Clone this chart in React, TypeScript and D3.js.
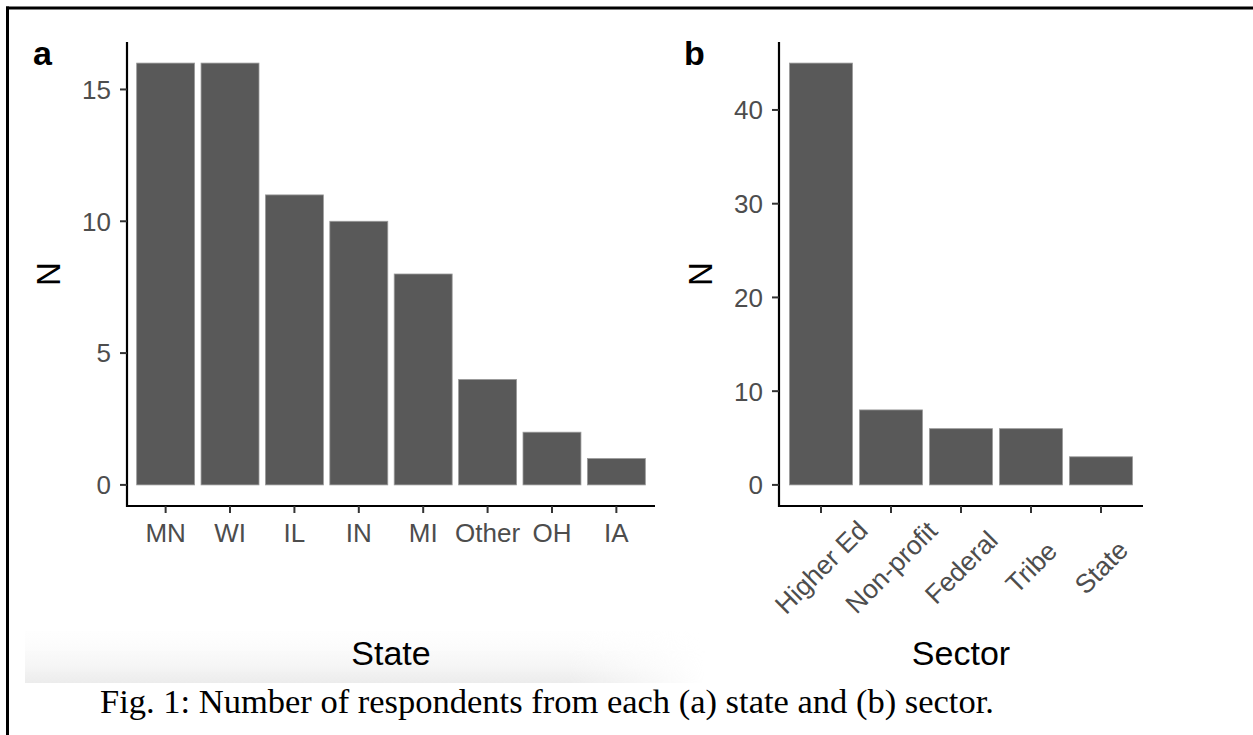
import React from "react";
import * as d3 from "d3";

const stateCategories = ["MN", "WI", "IL", "IN", "MI", "Other", "OH", "IA"];
const stateCounts = [16, 16, 11, 10, 8, 4, 2, 1];
const stateTicks = [0, 5, 10, 15];

const sectorCategories = ["Higher Ed", "Non-profit", "Federal", "Tribe", "State"];
const sectorCounts = [45, 8, 6, 6, 3];
const sectorTicks = [0, 10, 20, 30, 40];

const caption = "Fig. 1: Number of respondents from each (a) state and (b) sector.";

const W = 1253;
const H = 735;
const BAR = "#595959";
const TICKTXT = "#4d4d4d";
const SANS = "'Liberation Sans', Arial, Helvetica, sans-serif";

type PanelProps = {
  cats: string[];
  vals: number[];
  ticks: number[];
  left: number;
  right: number;
  top: number;
  bottom: number;
  label: string;
  labelX: number;
  xTitle: string;
  xTitleY: number;
  yTitleX: number;
  rotate: boolean;
};

function Panel(p: PanelProps) {
  const maxV = d3.max(p.vals) as number;
  const pad = maxV * 0.05;
  const y = d3.scaleLinear().domain([-pad, maxV + pad]).range([p.bottom, p.top]);
  const n = p.cats.length;
  const x = d3.scaleLinear().domain([0.4, n + 0.6]).range([p.left, p.right]);
  const bw = x(1.9) - x(1);
  return (
    <g>
      {p.vals.map((v, i) => (
        <rect
          key={p.cats[i]}
          x={x(i + 1) - bw / 2}
          y={y(v)}
          width={bw}
          height={y(0) - y(v)}
          fill={BAR}
          stroke="#9a9a9a"
          strokeWidth={0.8}
        />
      ))}
      <line x1={p.left} x2={p.left} y1={p.top} y2={p.bottom + 1} stroke="#000" strokeWidth={2.2} />
      <line x1={p.left - 1} x2={p.right} y1={p.bottom} y2={p.bottom} stroke="#000" strokeWidth={2.2} />
      {p.ticks.map((t) => (
        <g key={t}>
          <line x1={p.left - 7} x2={p.left} y1={y(t)} y2={y(t)} stroke="#333" strokeWidth={2} />
          <text
            x={p.left - 16}
            y={y(t)}
            dy="0.36em"
            textAnchor="end"
            fontFamily={SANS}
            fontSize={26}
            fill={TICKTXT}
          >
            {t}
          </text>
        </g>
      ))}
      {p.cats.map((c, i) => (
        <g key={c}>
          <line x1={x(i + 1)} x2={x(i + 1)} y1={p.bottom} y2={p.bottom + 7} stroke="#333" strokeWidth={2} />
          {p.rotate ? (
            <text
              transform={`translate(${x(i + 1)},${p.bottom + 61}) rotate(-45)`}
              textAnchor="middle"
              dy="0.36em"
              fontFamily={SANS}
              fontSize={26.5}
              fill={TICKTXT}
            >
              {c}
            </text>
          ) : (
            <text
              x={x(i + 1)}
              y={p.bottom + 36}
              textAnchor="middle"
              fontFamily={SANS}
              fontSize={26}
              fill={TICKTXT}
            >
              {c}
            </text>
          )}
        </g>
      ))}
      <text
        transform={`translate(${p.yTitleX},${(p.top + p.bottom) / 2}) rotate(-90)`}
        textAnchor="middle"
        dy="0.36em"
        fontFamily={SANS}
        fontSize={33}
        fill="#000"
      >
        N
      </text>
      <text
        x={(p.left + p.right) / 2}
        y={p.xTitleY}
        textAnchor="middle"
        fontFamily={SANS}
        fontSize={34}
        fill="#000"
      >
        {p.xTitle}
      </text>
      <text x={p.labelX} y={65} fontFamily={SANS} fontSize={34} fontWeight="bold" fill="#000">
        {p.label}
      </text>
    </g>
  );
}

export default function App() {
  return (
    <svg
      width={W}
      height={H}
      style={{ position: "absolute", left: 0, top: 0, background: "#fff" }}
    >
      <defs>
        <linearGradient id="shadeV" x1="0" y1="0" x2="0" y2="1">
          <stop offset="0" stopColor="#ffffff" stopOpacity={0} />
          <stop offset="1" stopColor="#ececec" stopOpacity={1} />
        </linearGradient>
        <linearGradient id="shadeH" x1="0" y1="0" x2="1" y2="0">
          <stop offset="0" stopColor="#fff" stopOpacity={1} />
          <stop offset="0.8" stopColor="#fff" stopOpacity={1} />
          <stop offset="1" stopColor="#fff" stopOpacity={0} />
        </linearGradient>
        <mask id="fadeMask">
          <rect x={25} y={620} width={680} height={63} fill="url(#shadeH)" />
        </mask>
      </defs>
      <rect x={0} y={0} width={W} height={H} fill="#fff" />
      <rect x={25} y={620} width={680} height={63} fill="url(#shadeV)" mask="url(#fadeMask)" />
      <Panel
        cats={stateCategories}
        vals={stateCounts}
        ticks={stateTicks}
        left={127}
        right={655}
        top={42}
        bottom={506}
        label="a"
        labelX={33}
        xTitle="State"
        xTitleY={665}
        yTitleX={48}
        rotate={false}
      />
      <Panel
        cats={sectorCategories}
        vals={sectorCounts}
        ticks={sectorTicks}
        left={779}
        right={1143}
        top={42}
        bottom={506}
        label="b"
        labelX={684}
        xTitle="Sector"
        xTitleY={665}
        yTitleX={700}
        rotate={true}
      />
      <text x={100} y={713} fontFamily="'Liberation Serif', 'Times New Roman', serif" fontSize={34.5} fill="#000">
        {caption}
      </text>
      <line x1={6} x2={W} y1={8} y2={8} stroke="#000" strokeWidth={3} />
      <line x1={7.5} x2={7.5} y1={6.5} y2={H} stroke="#000" strokeWidth={3} />
    </svg>
  );
}
